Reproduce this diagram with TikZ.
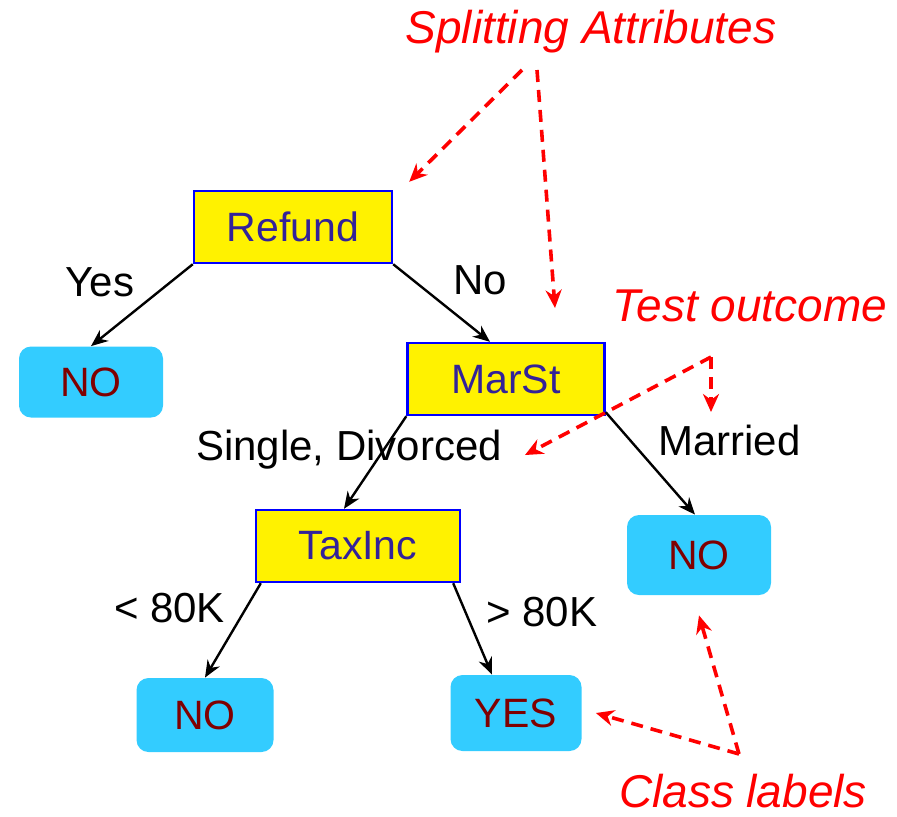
\documentclass[tikz,border=0pt]{standalone}
\usepackage{fontspec}
\setmainfont{Liberation Sans}
\usetikzlibrary{arrows.meta}
\definecolor{attrblue}{RGB}{0,0,255}
\definecolor{attrtext}{RGB}{51,34,153}
\definecolor{leafcyan}{RGB}{51,204,255}
\definecolor{leaftext}{RGB}{128,0,0}
\tikzset{
  attr/.style={rectangle, draw=attrblue, line width=1.2pt, fill=yellow, text=attrtext,
    font=\fontsize{20.5}{24}\selectfont, minimum height=36pt, inner sep=0pt},
  leaf/.style={rectangle, rounded corners=6pt, fill=leafcyan, text=leaftext,
    font=\fontsize{20.5}{24}\selectfont, inner sep=0pt},
  outcome/.style={font=\fontsize{21}{25}\selectfont},
  note/.style={text=red, font=\fontsize{23}{27}\selectfont\itshape},
  notearrow/.style={-{Stealth[length=9pt,width=8pt]}, red, line width=1.8pt, dash pattern=on 6pt off 4pt},
}

\begin{document}
\begin{tikzpicture}[x=0.5pt, y=-0.5pt, >={Stealth[length=8.5pt,width=7pt]}]
    \useasboundingbox (0,0) rectangle (897,816);
    % attribute tests
    \node(refund)[attr, minimum width=99pt] at (293,227) {Refund};
    \node(marst)[attr, minimum width=98.5pt] at (506,379) {MarSt};
    \node(taxinc)[attr, minimum width=102pt] at (358,546) {TaxInc};
    % class labels
    \node(noA)[leaf, minimum width=72pt, minimum height=35.5pt] at (91,382) {NO};
    \node(noB)[leaf, minimum width=72pt, minimum height=40pt] at (699,555) {NO};
    \node(noC)[leaf, minimum width=68.5pt, minimum height=37pt] at (205,715) {NO};
    \node(yes)[leaf, minimum width=65.5pt, minimum height=38pt] at (516,713) {YES\hspace{9pt}};
    % outcomes
    \draw[->, line width=1.2pt] (refund.south west) -- (noA.north)
        node[outcome, midway, above left]{Yes};
    \draw[->, line width=1.2pt] (refund.south east) -- ([xshift=-8pt]marst.north)
        node[outcome, midway, above right, xshift=2pt]{No};
    \draw[->, line width=1.2pt] (marst.south west) -- ([xshift=-7pt]taxinc.north);
    \node(single)[outcome] at (349,450) {Single, Divorced};
    \draw[->, line width=1.2pt] ([yshift=2pt]marst.south east) -- ([xshift=-2pt]noB.north)
        node[outcome, midway, above right]{Married};
    \draw[->, line width=1.2pt] ([xshift=3pt]taxinc.south west) -- (noC.north)
        node[outcome, midway, above left]{< 80K};
    \draw[->, line width=1.2pt] ([xshift=-4pt]taxinc.south east) -- ([xshift=-12pt]yes.north)
        node[outcome, midway, above right, xshift=3pt, yshift=-3pt]{> 80K};
    % notes
    \node(split)[note] at (591,32) {Splitting Attributes};
    \node(test)[note] at (750,306) {Test outcome};
    \node(cls)[note] at (743,791) {Class labels};
    \coordinate(splitA) at (522,70);
    \coordinate(splitB) at (537,70);
    \coordinate(testC) at (711,357);
    \coordinate(clsC) at (739,754);
    \draw[notearrow] (splitA) -- ([xshift=8pt,yshift=4pt]refund.north east);
    \draw[notearrow] (splitB) -- (555,308);
    \draw[notearrow] (testC) -- (711,412);
    \draw[notearrow] (testC) -- (525,455);
    \draw[notearrow] (clsC) -- ([xshift=7pt]yes.east);
    \draw[notearrow] (clsC) -- ([yshift=-10pt]noB.south);
\end{tikzpicture}
\end{document}
